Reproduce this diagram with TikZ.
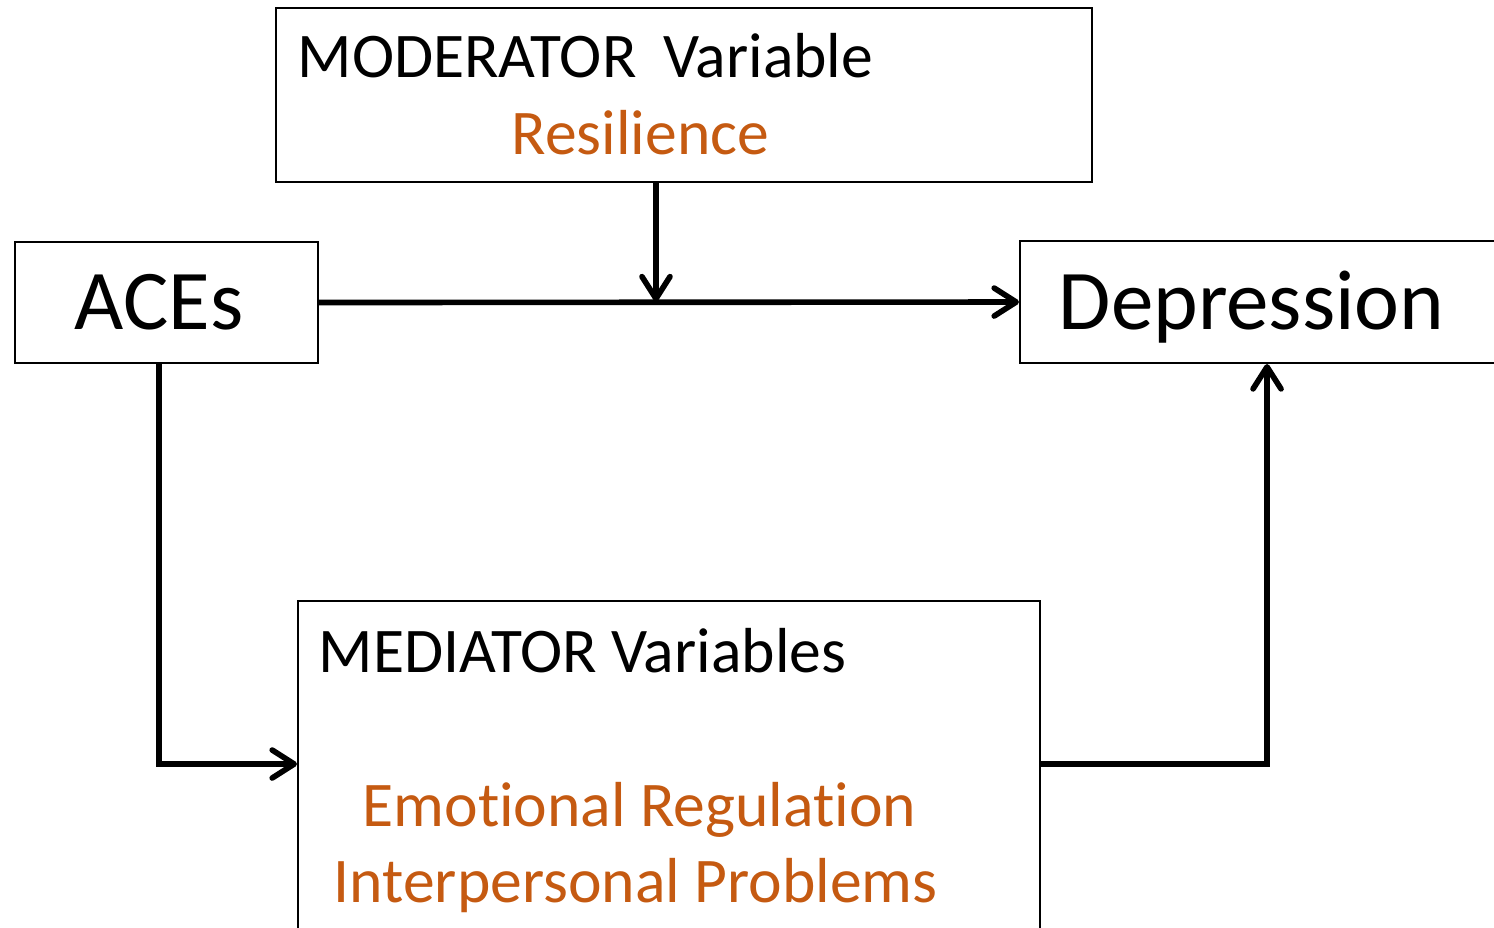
\documentclass[tikz,border=0pt]{standalone}
\usepackage{fontspec}
\setmainfont{Carlito}[Ligatures=NoCommon]
\usepackage{xcolor}
\usetikzlibrary{arrows.meta, positioning}

\definecolor{rust}{HTML}{C55A11}

\begin{document}
\begin{tikzpicture}[
    box/.style = {draw, line width=0.6pt, inner sep=0pt, anchor=north west},
    txt/.style = {anchor=base west, inner sep=0pt, font=\fontsize{18.1pt}{22pt}\selectfont},
    big/.style = {anchor=base west, inner sep=0pt, font=\fontsize{24.2pt}{29pt}\selectfont},
    arr/.style = {line width=1.6pt, -{Straight Barb[round, length=2.2mm, width=2.8mm]}}
]
    \clip (0,0) rectangle (14.94,9.28);

    % boxes
    \node (mod) [box, minimum width=8.16cm, minimum height=1.74cm] at (2.75,9.21) {};
    \node (aces) [box, minimum width=3.03cm, minimum height=1.21cm] at (0.14,6.87) {};
    \node (dep) [box, minimum width=4.94cm, minimum height=1.22cm] at (10.19,6.88) {};
    \node (med) [box, minimum width=7.42cm, minimum height=3.30cm] at (2.97,3.28) {};

    % texts
    \node (modt) [txt] at (2.97,8.50) {MODERATOR\hspace{0.42em}Variable};
    \node (res) [txt, text=rust] at (5.11,7.73) {Resilience};
    \node (acest) [big] at (0.74,5.98) {ACEs};
    \node (dept) [big] at (10.58,5.98) {Depression};
    \node (medt) [txt] at (3.18,2.55) {MEDIATOR Variables};
    \node (emo) [txt, text=rust] at (3.62,1.01) {Emotional Regulation};
    \node (inter) [txt, text=rust] at (3.33,0.25) {Interpersonal Problems};

    \coordinate (j) at (6.56,6.265);

\path [arr]
    (aces.east) edge (dep.west)
    (mod.south -| j) edge (j);
\draw [arr] ([xshift=-0.075cm]aces.south) |- ([yshift=0.02cm]med.west);
\draw [arr] ([yshift=0.02cm]med.east) -| (dep.south);

\end{tikzpicture}
\end{document}
